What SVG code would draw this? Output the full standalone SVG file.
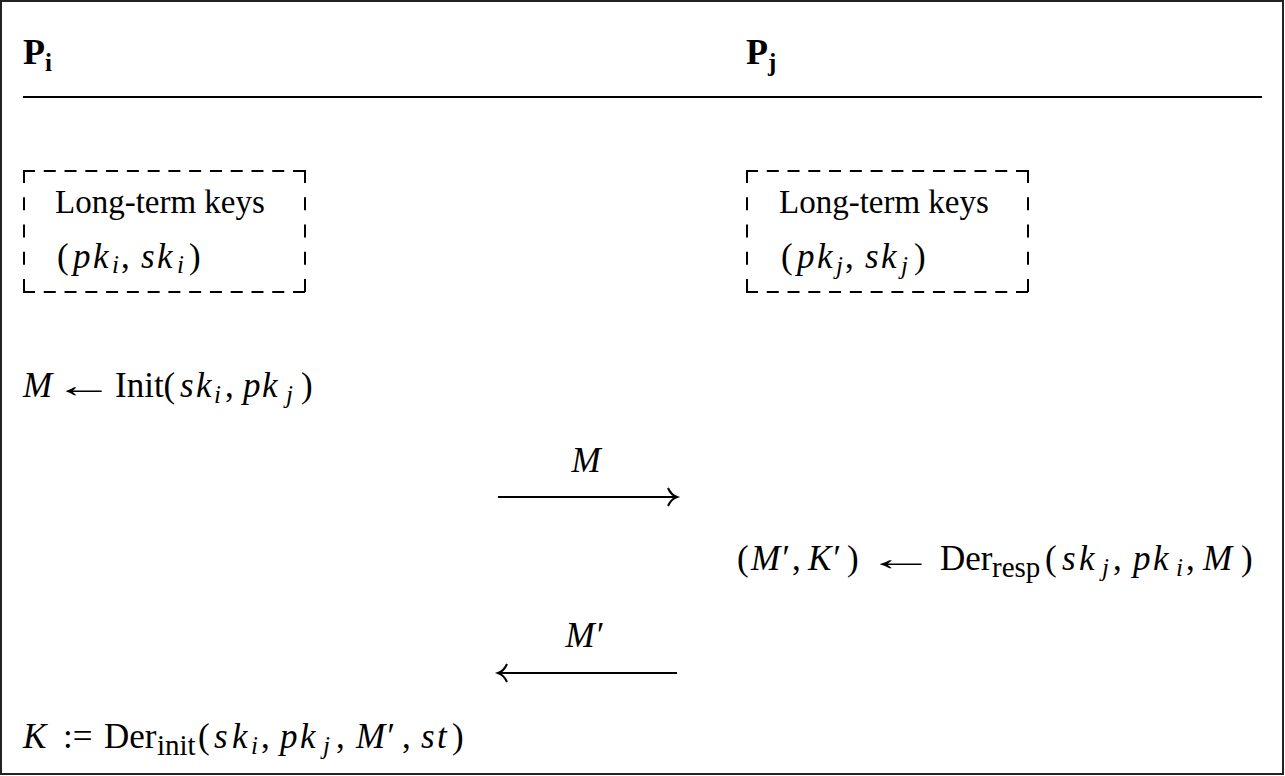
<svg xmlns="http://www.w3.org/2000/svg" width="1285" height="776" viewBox="0 0 1285 776">
<style>
text{font-family:"Liberation Serif","Times New Roman",serif;font-size:35px;fill:#000}
.lbl{font-size:33px}
.it{font-style:italic}
.sub{font-size:25px}
.usub{font-size:29px}
.hdr{font-weight:bold;font-size:36px}
.hsub{font-weight:bold;font-size:25px}
.dh{fill:none;stroke:#000;stroke-width:2;stroke-linecap:square;stroke-dasharray:10,10.77}
.dv{fill:none;stroke:#000;stroke-width:2;stroke-linecap:square;stroke-dasharray:11,16.25}
.conn{fill:none;stroke:#000;stroke-width:2}
</style>
<rect x="1" y="1" width="1282" height="773" fill="#fff" stroke="#222" stroke-width="2"/>
<g id="header">
<text x="23" y="64" class="hdr">P<tspan class="hsub" dy="7">i</tspan></text>
<text x="746" y="64" class="hdr">P<tspan class="hsub" dy="7">j</tspan></text>
<line x1="23" y1="97" x2="1262" y2="97" stroke="#000" stroke-width="2"/>
</g>
<g id="keys-i">
<path d="M24,171H305M24,292H305" class="dh"/>
<path d="M24,171V292M305,171V292" class="dv"/>
<text x="55" y="213" class="lbl">Long-term keys</text>
<text y="268"><tspan x="57">(</tspan><tspan x="73" class="it">p</tspan><tspan x="93" class="it">k</tspan><tspan x="112" y="273" class="it sub">i</tspan><tspan x="121" y="268">,</tspan><tspan x="141" class="it">s</tspan><tspan x="157" class="it">k</tspan><tspan x="177" y="273" class="it sub">i</tspan><tspan x="189" y="268">)</tspan></text>
</g>
<g id="keys-j">
<path d="M747,171H1028M747,292H1028" class="dh"/>
<path d="M747,171V292M1028,171V292" class="dv"/>
<text x="779" y="213" class="lbl">Long-term keys</text>
<text y="268"><tspan x="781">(</tspan><tspan x="797" class="it">p</tspan><tspan x="817" class="it">k</tspan><tspan x="836" y="274" class="it sub">j</tspan><tspan x="845" y="268">,</tspan><tspan x="865" class="it">s</tspan><tspan x="881" class="it">k</tspan><tspan x="901" y="274" class="it sub">j</tspan><tspan x="914" y="268">)</tspan></text>
</g>
<g id="init">
<text y="397"><tspan x="23" class="it">M</tspan><tspan x="115">Init(</tspan><tspan x="180" class="it">s</tspan><tspan x="196" class="it">k</tspan><tspan x="214" y="403" class="it sub">i</tspan><tspan x="225" y="397">,</tspan><tspan x="243" class="it">p</tspan><tspan x="262" class="it">k</tspan><tspan x="286" y="403" class="it sub">j</tspan><tspan x="301" y="397">)</tspan></text>
<text x="54" y="397" textLength="60" lengthAdjust="spacingAndGlyphs">←</text>
</g>
<g id="resp">
<text y="570"><tspan x="737">(</tspan><tspan x="751" class="it">M′</tspan><tspan x="792">,</tspan><tspan x="808" class="it">K′</tspan><tspan x="847">)</tspan><tspan x="940">Der</tspan><tspan x="992" y="577" class="usub">resp</tspan><tspan x="1045" y="570">(</tspan><tspan x="1062" class="it">s</tspan><tspan x="1079" class="it">k</tspan><tspan x="1102" y="576" class="it sub">j</tspan><tspan x="1113" y="570">,</tspan><tspan x="1133" class="it">p</tspan><tspan x="1153" class="it">k</tspan><tspan x="1176" y="576" class="it sub">i</tspan><tspan x="1186" y="570">,</tspan><tspan x="1203" class="it">M</tspan><tspan x="1241">)</tspan></text>
<text x="866" y="570" textLength="70" lengthAdjust="spacingAndGlyphs">←</text>
</g>
<g id="derive">
<text y="748"><tspan x="23" class="it">K</tspan><tspan x="63">:=</tspan><tspan x="104">Der</tspan><tspan x="157" y="755" class="usub">init</tspan><tspan x="198" y="748">(</tspan><tspan x="214" class="it">s</tspan><tspan x="232" class="it">k</tspan><tspan x="251" y="754" class="it sub">i</tspan><tspan x="261" y="748">,</tspan><tspan x="280" class="it">p</tspan><tspan x="300" class="it">k</tspan><tspan x="323" y="754" class="it sub">j</tspan><tspan x="336" y="748">,</tspan><tspan x="356" class="it">M′</tspan><tspan x="402">,</tspan><tspan x="421" class="it">s</tspan><tspan x="437" class="it">t</tspan><tspan x="452">)</tspan></text>
</g>
<g id="connectors">
<text x="586" y="472" text-anchor="middle" class="it">M</text>
<line x1="498" y1="497" x2="676" y2="497" class="conn"/>
<path d="M668,488 Q671,495 677,497 Q671,499 668,506" class="conn"/>
<text x="584" y="647" text-anchor="middle" class="it">M′</text>
<line x1="499" y1="673" x2="677" y2="673" class="conn"/>
<path d="M507,664 Q504,671 498,673 Q504,675 507,682" class="conn"/>
</g>
</svg>
